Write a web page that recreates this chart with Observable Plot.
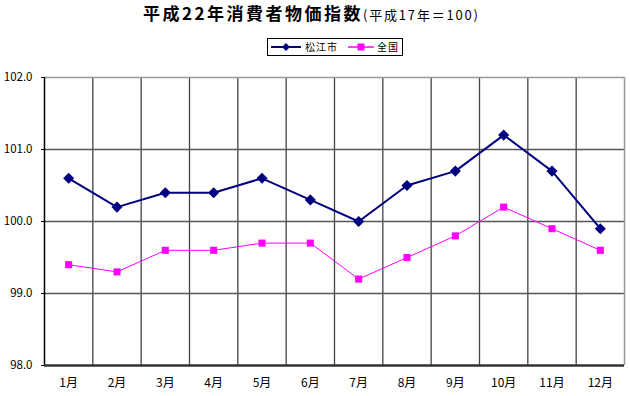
<!DOCTYPE html>
<html><head><meta charset="utf-8">
<script src="https://cdn.jsdelivr.net/npm/d3@7"></script>
<script src="https://cdn.jsdelivr.net/npm/@observablehq/plot@0.6"></script>
<style>
body{margin:0;background:#fff;font-family:"Noto Sans CJK JP",sans-serif;}
#wrap{position:relative;width:630px;height:396px;}
#title{position:absolute;left:143px;top:0px;white-space:nowrap;color:#000;}
#title .main{font-size:17px;font-weight:bold;letter-spacing:2.5px;}
#title .sub{font-size:13px;letter-spacing:1.8px;}
#legend{position:absolute;left:267px;top:38px;width:134px;height:16px;border:1px solid #000;font-size:10px;}
#legend svg{position:absolute;left:0;top:0;}
</style></head><body>
<div id="wrap">
<div id="title"><span class="main">平成22年消費者物価指数</span><span class="sub">(平成17年＝100)</span></div>
<div id="legend"></div>
<div id="chart"></div>
</div>
<script>
const months = ["1月","2月","3月","4月","5月","6月","7月","8月","9月","10月","11月","12月"];
const matsue = [100.6,100.2,100.4,100.4,100.6,100.3,100.0,100.5,100.7,101.2,100.7,99.9];
const zenkoku = [99.4,99.3,99.6,99.6,99.7,99.7,99.2,99.5,99.8,100.2,99.9,99.6];
const seriesNames = ["松江市","全国"];
const yTicks = [98,99,100,101,102];

const navy = "#000080", pink = "#ff00ff";
const idx = months.map((m,i)=>i+1);
const dM = months.map((m,i)=>({x:i+1, y:matsue[i]}));
const dZ = months.map((m,i)=>({x:i+1, y:zenkoku[i]}));
const bounds = d3.range(0.5, months.length + 1, 1);

const chart = Plot.plot({
  width:630, height:396,
  marginLeft:44, marginRight:6, marginTop:77, marginBottom:31,
  style:{fontFamily:'"Noto Sans CJK JP",sans-serif', fontSize:"11.5px", color:"#000", background:"#fff"},
  x:{domain:[0.5, months.length+0.5], label:null},
  y:{domain:[98,102], label:null},
  marks:[
    Plot.ruleX(bounds.slice(1,-1), {stroke:"#444", strokeWidth:1.3}),
    Plot.ruleY(yTicks.slice(1,-1), {stroke:"#555", strokeWidth:1.5}),
    Plot.ruleY([102], {stroke:"#999", strokeWidth:1.5}),
    Plot.ruleX([bounds[bounds.length-1]], {stroke:"#999", strokeWidth:1.5}),
    Plot.ruleX([bounds[0]], {stroke:"#000", strokeWidth:1.5}),
    Plot.ruleY([98], {stroke:"#333", strokeWidth:2.5}),
    Plot.line(dZ, {x:"x", y:"y", stroke:pink, strokeWidth:1}),
    Plot.dot(dZ, {x:"x", y:"y", symbol:"square", r:4, fill:pink, stroke:null}),
    Plot.line(dM, {x:"x", y:"y", stroke:navy, strokeWidth:2}),
    Plot.dot(dM, {x:"x", y:"y", symbol:"diamond2", r:5, fill:navy, stroke:null}),
    Plot.axisY({ticks:yTicks, tickFormat:d3.format(".1f"), tickSize:3, tickPadding:9, stroke:"#000"}),
    Plot.axisX({ticks:idx, tickFormat:i=>months[i-1], tickSize:0, tickPadding:13, fontSize:"12px", style:{letterSpacing:"1px"}})
  ]
});
document.getElementById("chart").appendChild(chart);

// legend
const lg = d3.select("#legend").append("svg").attr("width",134).attr("height",16);
const items = [
  {name:seriesNames[0], color:navy, sym:"diamond", x0:3, x1:33, w:2, tx:37},
  {name:seriesNames[1], color:pink, sym:"square", x0:80, x1:106, w:1.5, tx:109}
];
items.forEach(it=>{
  lg.append("line").attr("x1",it.x0).attr("x2",it.x1).attr("y1",8).attr("y2",8).attr("stroke",it.color).attr("stroke-width",it.w);
  const cx=(it.x0+it.x1)/2;
  if(it.sym==="diamond"){
    lg.append("path").attr("d",`M${cx},4L${cx+4},8L${cx},12L${cx-4},8Z`).attr("fill",it.color);
  } else {
    lg.append("rect").attr("x",cx-3.5).attr("y",4.5).attr("width",7).attr("height",7).attr("fill",it.color);
  }
  lg.append("text").attr("x",it.tx).attr("y",12).attr("font-size",10).attr("letter-spacing","1px").attr("fill","#000").text(it.name);
});
</script>
</body></html>
